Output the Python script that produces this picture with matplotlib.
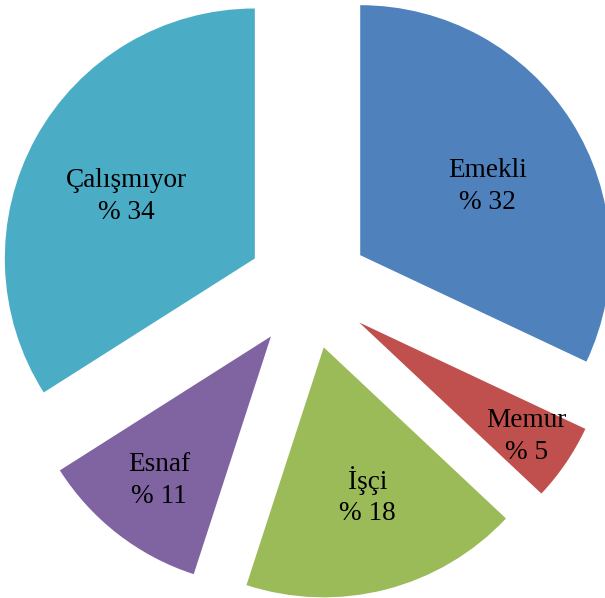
import numpy as np
import matplotlib.pyplot as plt

labels = ["Emekli", "Memur", "İşçi", "Esnaf", "Çalışmıyor"]
values = [32, 5, 18, 11, 34]
colors = ["#4F81BD", "#C0504D", "#9BBB59", "#8064A2", "#4BACC6"]

# label placement inside each slice (radius fraction, angle tweak in degrees)
label_dist = [0.58, 0.81, 0.62, 0.73, 0.57]
label_tweak = [-4, 0, 2, 0, 3]

plt.rcParams["font.family"] = ["Liberation Serif", "DejaVu Serif"]

fig = plt.figure(figsize=(6.05, 5.98), dpi=100)
ax = fig.add_axes([0, 0, 1, 1])

wedges, _ = ax.pie(values, colors=colors, startangle=90, counterclock=False,
                   explode=[0.245] * len(values), radius=1.0,
                   wedgeprops=dict(linewidth=0))

for w, name, v, d, tw in zip(wedges, labels, values, label_dist, label_tweak):
    mid = np.deg2rad((w.theta1 + w.theta2) / 2 + tw)
    cx, cy = w.center
    ax.text(cx + d * np.cos(mid), cy + d * np.sin(mid), f"{name}\n% {v}",
            ha="center", va="center", fontsize=19.6, color="black",
            linespacing=1.35)

ax.set_xlim(-1.234, 1.186)
ax.set_ylim(-1.24, 1.152)
ax.set_aspect("equal")
ax.axis("off")

fig.savefig("out.png", dpi=100)
